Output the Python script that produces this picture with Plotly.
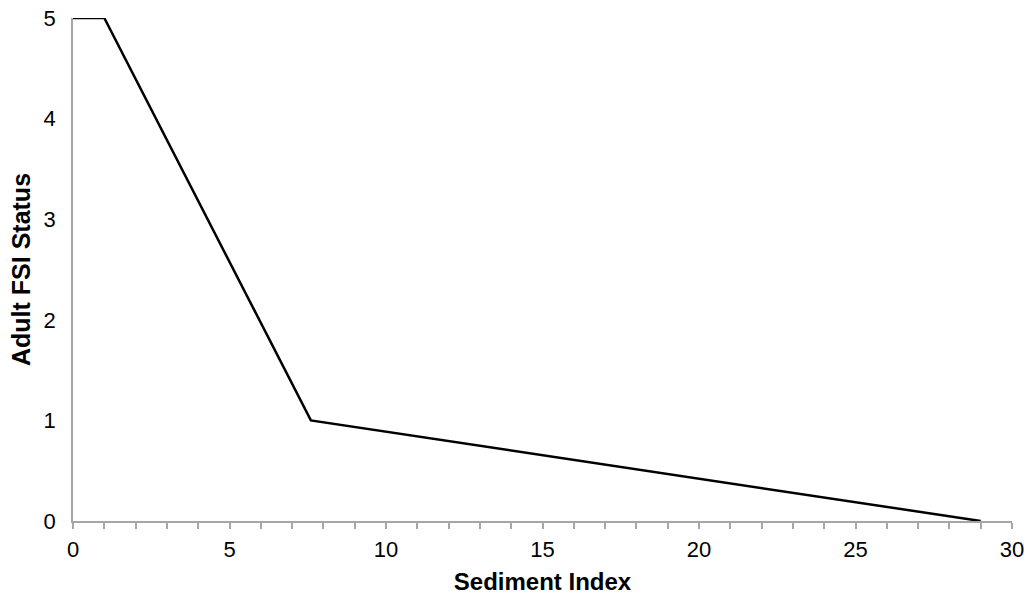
import plotly.graph_objects as go

sediment_index = [0, 1, 7.6, 29]
fsi_status = [5, 5, 1, 0]
x_ticks = [0, 5, 10, 15, 20, 25, 30]
y_ticks = [0, 1, 2, 3, 4, 5]

fig = go.Figure()
fig.add_trace(go.Scatter(x=sediment_index, y=fsi_status, mode="lines",
                         line=dict(color="black", width=2.5), showlegend=False))

font = "Liberation Sans, Arial, sans-serif"
axis_grey = "#a6a6a6"
fig.update_layout(
    width=1030, height=598,
    margin=dict(l=73, r=18, t=18, b=77),
    plot_bgcolor="white", paper_bgcolor="white",
    font=dict(family=font, size=22, color="black"),
)
fig.update_xaxes(
    range=[0, 30], tickvals=x_ticks,
    showline=True, linecolor=axis_grey, linewidth=1.5,
    ticks="outside", ticklen=6, tickcolor=axis_grey, tickwidth=1.5,
    minor=dict(dtick=1, ticks="outside", ticklen=6, tickcolor=axis_grey, tickwidth=1.5),
    showgrid=False, zeroline=False, automargin=False,
    tickfont=dict(size=22), ticklabelstandoff=2,
    title=dict(text="<b>Sediment Index</b>", font=dict(size=24), standoff=12),
)
fig.update_yaxes(
    range=[0, 5], tickvals=y_ticks,
    showline=True, linecolor=axis_grey, linewidth=1.5,
    ticks="", showgrid=False, zeroline=False, automargin=False,
    tickfont=dict(size=22), ticklabelstandoff=11,
    title=dict(text="<b>Adult FSI Status</b>", font=dict(size=25), standoff=6),
)
fig.write_html("out.html", config={"displayModeBar": False},
               post_script="document.body.style.margin='0';document.body.style.padding='0';")
